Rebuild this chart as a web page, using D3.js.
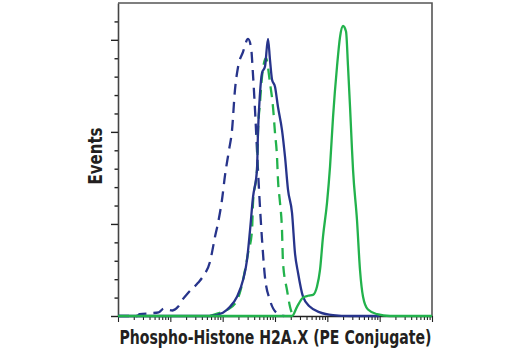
<!DOCTYPE html>
<html>
<head>
<meta charset="utf-8">
<script src="https://cdn.jsdelivr.net/npm/d3@7/dist/d3.min.js"></script>
<style>
  html, body { margin: 0; padding: 0; background: #fff; }
  svg { display: block; }
</style>
</head>
<body>
<svg id="chart" width="520" height="350"></svg>
<script>
// ---- data (fluorescence intensity vs. event count) ----
const xLabel = "Phospho-Histone H2A.X (PE Conjugate)";
const yLabel = "Events";
const xDomain = [1, 1e6];
const yDomain = [0, 340];
const yMajorTicks = [0, 100, 200, 300];
const yMinorTicks = [20, 40, 60, 80, 120, 140, 160, 180, 220, 240, 260, 280, 320];

// dashed blue (control, untreated)
const blueDashX = [1, 2.3, 2.6, 4.2, 6, 7.5, 9, 11, 14, 16.7, 21.8, 33.8, 42.1, 57.3, 71.4, 81.5, 97, 111, 132, 151, 172, 196, 245, 305, 348, 380, 415, 453, 495, 565, 644, 803, 1092, 1500];
const blueDashY = [0, 0, 2, 3, 4, 8, 7, 6, 10, 17, 25, 36, 43, 59, 86, 101, 126, 153, 180, 202, 246, 270, 287, 301, 292, 262, 224, 180, 137, 83, 42, 17, 3, 0];

// solid blue
const blueSolidX = [1, 57, 101, 138, 188, 245, 292, 333, 380, 453, 473, 517, 565, 644, 735, 803, 877, 1000, 1141, 1361, 1553, 1774, 2115, 2411, 2754, 3428, 4667, 7244, 12850, 27160, 1e5];
const blueSolidY = [0, 0, 3.6, 10, 21, 39, 61, 93, 129, 159, 199, 242, 264, 271, 301, 278, 257, 249, 227, 202, 173, 137, 112, 68, 47, 21, 10, 4, 1, 0, 0];

// dashed green
const greenDashX = [57, 81.5, 121, 188, 245, 305, 364, 380, 453, 473, 517, 565, 673, 803, 916, 1000, 1092, 1141, 1247, 1361, 1422, 1698, 1936, 2208];
const greenDashY = [0, 3, 6.5, 17, 39, 68, 93, 123, 159, 199, 232, 260, 280, 253, 227, 199, 173, 148, 123, 93, 58, 28, 10, 0];

// solid green
const greenSolidX = [1, 2115, 2636, 3428, 4276, 5324, 6351, 7244, 8260, 9860, 11250, 12850, 15310, 17470, 19950, 22760, 24850, 27160, 29650, 30970, 36900, 42100, 48100, 59800, 88900, 157700, 1e6];
const greenSolidY = [0, 0, 10, 20, 22, 23, 32, 50, 86, 123, 162, 216, 271, 303, 315, 309, 271, 227, 180, 159, 104, 50, 21, 7, 2, 0, 0];

const series = [
  { name: "blueDash", xs: blueDashX, ys: blueDashY, color: "#27348b", dash: "11,7" },
  { name: "greenDash", xs: greenDashX, ys: greenDashY, color: "#22b24c", dash: "11,7" },
  { name: "blueSolid", xs: blueSolidX, ys: blueSolidY, color: "#27348b", dash: null },
  { name: "greenSolid", xs: greenSolidX, ys: greenSolidY, color: "#22b24c", dash: null }
];

// ---- layout ----
const svg = d3.select("#chart");
const L = 118, R = 432, T = 3, B = 316;

const x = d3.scaleLog().domain(xDomain).range([L, R]);
const y = d3.scaleLinear().domain(yDomain).range([B, T]);

// frame (top + right)
svg.append("path")
  .attr("d", `M${L},${T}H${R}V${B}`)
  .attr("fill", "none")
  .attr("stroke", "#555")
  .attr("stroke-width", 1.6);

const line = d3.line()
  .x(d => x(d[0]))
  .y(d => y(d[1]))
  .curve(d3.curveMonotoneX);

// axes
const xMajor = d3.range(0, 7).map(k => Math.pow(10, k));
const xMinor = [];
for (let k = 0; k < 6; k++) for (let m = 2; m <= 9; m++) xMinor.push(m * Math.pow(10, k));

const gx = svg.append("g").attr("transform", `translate(0,${B})`);
gx.append("g").call(d3.axisBottom(x).tickValues(xMinor).tickSize(4).tickSizeOuter(0).tickFormat(""))
  .call(g => g.select(".domain").remove());
gx.append("g").call(d3.axisBottom(x).tickValues(xMajor).tickSize(6).tickSizeOuter(0).tickFormat(""))
  .call(g => g.select(".domain").attr("stroke", "#222").attr("stroke-width", 1.6));
gx.selectAll(".tick line").attr("stroke", "#222").attr("stroke-width", 1.1);

const gy = svg.append("g").attr("transform", `translate(${L},0)`);
gy.append("g").call(d3.axisLeft(y).tickValues(yMinorTicks).tickSize(3.5).tickSizeOuter(0).tickFormat(""))
  .call(g => g.select(".domain").remove());
gy.append("g").call(d3.axisLeft(y).tickValues(yMajorTicks).tickSize(7).tickSizeOuter(0).tickFormat(""))
  .call(g => g.select(".domain").attr("stroke", "#444").attr("stroke-width", 1.6));
gy.selectAll(".tick line").attr("stroke", "#222").attr("stroke-width", 1.4);

// curves on top of axes
const gCurves = svg.append("g");
series.forEach(s => {
  const pts = s.xs.map((v, i) => [v, s.ys[i]]);
  gCurves.append("path")
    .datum(pts)
    .attr("d", line)
    .attr("fill", "none")
    .attr("stroke", s.color)
    .attr("stroke-width", 2.3)
    .attr("stroke-linejoin", "round")
    .attr("stroke-dasharray", s.dash);
});

// labels
const fontFam = "'Liberation Sans Narrow', 'DejaVu Sans Condensed', 'Roboto Condensed', Arial, sans-serif";
svg.append("text")
  .attr("x", (L + R) / 2 + 0.5)
  .attr("y", 344)
  .attr("text-anchor", "middle")
  .attr("font-family", fontFam)
  .attr("font-weight", "bold")
  .attr("font-size", 19)
  .attr("fill", "#231f20")
  .attr("textLength", 312)
  .attr("lengthAdjust", "spacingAndGlyphs")
  .text(xLabel);

svg.append("text")
  .attr("transform", "translate(102,156) rotate(-90)")
  .attr("text-anchor", "middle")
  .attr("font-family", fontFam)
  .attr("font-weight", "bold")
  .attr("font-size", 19)
  .attr("fill", "#231f20")
  .attr("textLength", 57)
  .attr("lengthAdjust", "spacingAndGlyphs")
  .text(yLabel);
</script>
</body>
</html>
